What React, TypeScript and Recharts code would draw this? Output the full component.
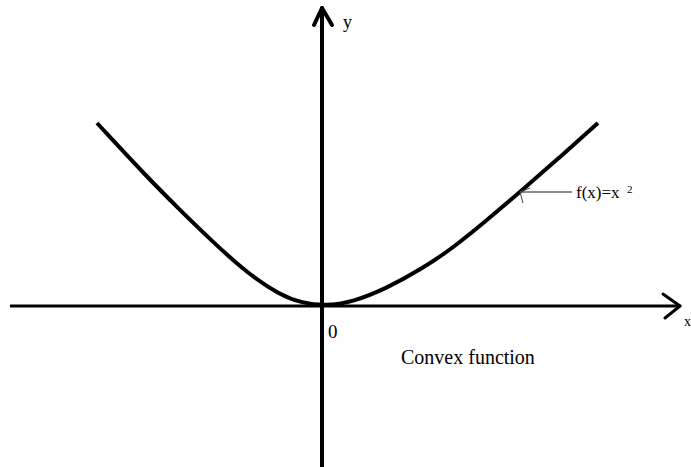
import { ComposedChart, Line, XAxis, YAxis, ReferenceLine } from "recharts";

// curve (x right, y up, origin at the axes crossing)
const curveX = [-225, -175, -142, -109, -75, -42, -20, 3, 31, 65, 98, 131, 165, 198, 237, 276];
const curveY = [183, 129, 96, 64, 33, 11, 3, 0, 4, 18, 36, 58, 86, 114, 148, 183];

// axes and their arrowheads
const X_AXIS_FROM = -312;
const X_AXIS_TIP = 358;
const Y_AXIS_FROM = -161;
const Y_AXIS_TIP = 298;
const X_WINGS = [
  { x: 341, y: 12 },
  { x: 343, y: -12 },
];
const Y_WINGS = [
  { x: -8, y: 281 },
  { x: 10, y: 281 },
];

// annotation pointer onto the curve
const POINTER = [
  { x: 198, y: 114 },
  { x: 250, y: 114 },
];
const POINTER_WINGS = [
  { x: 208, y: 118 },
  { x: 201, y: 103 },
];

const data = curveX.map((x, i) => ({ x, y: curveY[i] }));

const SERIF = "'Liberation Serif', 'DejaVu Serif', serif";

export default function App() {
  return (
    <div style={{ position: "absolute", left: 0, top: 0, background: "#fff" }}>
      <ComposedChart
        width={691}
        height={467}
        data={data}
        margin={{ top: 0, right: 0, bottom: 0, left: 0 }}
      >
        <XAxis dataKey="x" type="number" domain={[-322, 369]} hide allowDataOverflow />
        <YAxis type="number" domain={[-161, 306]} hide allowDataOverflow />

        <ReferenceLine
          segment={[{ x: X_AXIS_FROM, y: 0 }, { x: X_AXIS_TIP, y: 0 }]}
          stroke="#000"
          strokeWidth={3}
          ifOverflow="visible"
        />
        {X_WINGS.map((w, i) => (
          <ReferenceLine
            key={"xw" + i}
            segment={[w, { x: X_AXIS_TIP, y: 0 }]}
            stroke="#000"
            strokeWidth={3}
            strokeLinecap="round"
            ifOverflow="visible"
          />
        ))}
        <ReferenceLine
          segment={[{ x: 0, y: Y_AXIS_FROM }, { x: 0, y: Y_AXIS_TIP }]}
          stroke="#000"
          strokeWidth={4}
          ifOverflow="visible"
        />
        {Y_WINGS.map((w, i) => (
          <ReferenceLine
            key={"yw" + i}
            segment={[w, { x: 0, y: Y_AXIS_TIP }]}
            stroke="#000"
            strokeWidth={4}
            strokeLinecap="round"
            ifOverflow="visible"
          />
        ))}

        <Line
          dataKey="y"
          type="basis"
          stroke="#000"
          strokeWidth={4}
          dot={false}
          activeDot={false}
          isAnimationActive={false}
        />

        <ReferenceLine segment={POINTER} stroke="#666" strokeWidth={1.5} ifOverflow="visible" />
        {POINTER_WINGS.map((w, i) => (
          <ReferenceLine
            key={"pw" + i}
            segment={[POINTER[0], w]}
            stroke="#444"
            strokeWidth={1}
            ifOverflow="visible"
          />
        ))}

        <g fontFamily={SERIF} fill="#000">
          <text x={343} y={28} fontSize={18}>y</text>
          <text x={684} y={326} fontSize={14}>x</text>
          <text x={328} y={338} fontSize={19}>0</text>
          <text x={401} y={364} fontSize={20}>Convex function</text>
          <text x={576} y={198} fontSize={17}>f(x)=x</text>
          <text x={627} y={193} fontSize={11}>2</text>
        </g>
      </ComposedChart>
    </div>
  );
}
